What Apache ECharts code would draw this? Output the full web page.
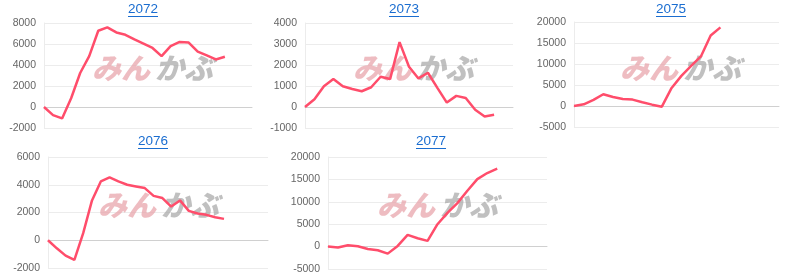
<!DOCTYPE html>
<html><head><meta charset="utf-8">
<script src="https://cdn.jsdelivr.net/npm/echarts@6/dist/echarts.min.js"></script>
<style>html,body{margin:0;padding:0;background:#fff}#c{width:800px;height:277px}</style>
</head><body><div id="c"></div>
<script>
// ---- data ----
const titles = ['2072', '2073', '2075', '2076', '2077'];
const categoryCounts = [24, 23, 22, 26, 23];
const yMins = [-2000, -1000, -5000, -2000, -5000];
const yMaxs = [8000, 4000, 20000, 6000, 20000];
const yIntervals = [2000, 1000, 5000, 2000, 5000];

const values2072 = [0, -770, -1090, 830, 3240, 4850, 7260, 7580, 7100, 6880, 6450, 6040, 5620, 4850, 5800, 6200, 6140, 5270, 4920, 4530, 4790];
const values2073 = [0, 370, 990, 1330, 990, 860, 750, 940, 1440, 1330, 3090, 1920, 1360, 1630, 910, 210, 530, 430, -130, -450, -370];
const values2075 = [0, 400, 1440, 2790, 2150, 1670, 1520, 880, 320, -160, 4300, 7180, 9570, 11800, 16800, 18720];
const values2076 = [0, -580, -1110, -1420, 510, 2870, 4240, 4530, 4240, 4000, 3880, 3760, 3200, 3040, 2430, 2870, 2120, 1930, 1830, 1660, 1540];
const values2077 = [0, -220, 300, 75, -520, -820, -1570, 150, 2610, 1870, 1270, 5000, 7540, 9700, 12460, 15070, 16420, 17390];
const seriesValues = [values2072, values2073, values2075, values2076, values2077];

// ---- layout ----
const grids = [
  {left: 44, top: 23, width: 208, height: 105},
  {left: 305, top: 23, width: 208, height: 105},
  {left: 574, top: 22, width: 205, height: 105},
  {left: 48, top: 157, width: 220, height: 111},
  {left: 328, top: 157, width: 219, height: 112}
];
const titlePos = [[143, 10], [404, 10], [671, 10], [153, 142], [431, 142]];
const wmPos = [[92, 69], [353, 69], [620, 69], [98, 206], [377, 206]];

const chart = echarts.init(document.getElementById('c'));
const xAxis = [], yAxis = [], series = [], graphic = [];
grids.forEach((g, i) => {
  const cats = [];
  for (let k = 0; k < categoryCounts[i]; k++) cats.push(String(k + 1));
  xAxis.push({
    type: 'category', gridIndex: i, data: cats, boundaryGap: false,
    axisLine: {show: true, onZero: true, lineStyle: {color: '#d0d0d0', width: 1}},
    axisTick: {show: false}, axisLabel: {show: false}, splitLine: {show: false}
  });
  yAxis.push({
    type: 'value', gridIndex: i, min: yMins[i], max: yMaxs[i], interval: yIntervals[i],
    axisLine: {show: true, lineStyle: {color: '#ececec'}},
    axisTick: {show: false},
    axisLabel: {color: '#666', fontSize: 10.5, fontFamily: 'Liberation Sans, Arial, sans-serif', margin: 8,
      formatter: v => String(v)},
    splitLine: {lineStyle: {color: '#ececec', width: 1}}
  });
  series.push({
    type: 'line', xAxisIndex: i, yAxisIndex: i, data: seriesValues[i],
    showSymbol: false, symbol: 'none', z: 5,
    lineStyle: {color: '#ff4d6b', width: 2.5}, itemStyle: {color: '#ff4d6b'}
  });
  const [tx, ty] = titlePos[i];
  graphic.push({
    type: 'text', left: tx - 15, top: ty - 7.5,
    style: {text: titles[i], fill: '#1a6dd0', font: '13.5px "Liberation Sans", Arial, sans-serif', textAlign: 'left'}
  });
  graphic.push({
    type: 'line', shape: {x1: tx - 15, y1: ty + 6.5, x2: tx + 15, y2: ty + 6.5},
    style: {stroke: '#1a6dd0', lineWidth: 1}
  });
  const [wx, wy] = wmPos[i];
  graphic.push({
    type: 'text', left: wx, top: wy - 16, z: 1,
    style: {text: 'みん', fill: 'rgba(232,165,172,0.75)', font: 'italic 900 29px "Noto Sans CJK JP", sans-serif'}
  });
  graphic.push({
    type: 'text', left: wx + 63, top: wy - 16, z: 1,
    style: {text: 'かぶ', fill: 'rgba(165,165,165,0.7)', font: 'italic 900 29px "Noto Sans CJK JP", sans-serif'}
  });
});

chart.setOption({
  animation: false,
  grid: grids.map(g => Object.assign({containLabel: false}, g)),
  xAxis, yAxis, series, graphic
});
</script></body></html>
